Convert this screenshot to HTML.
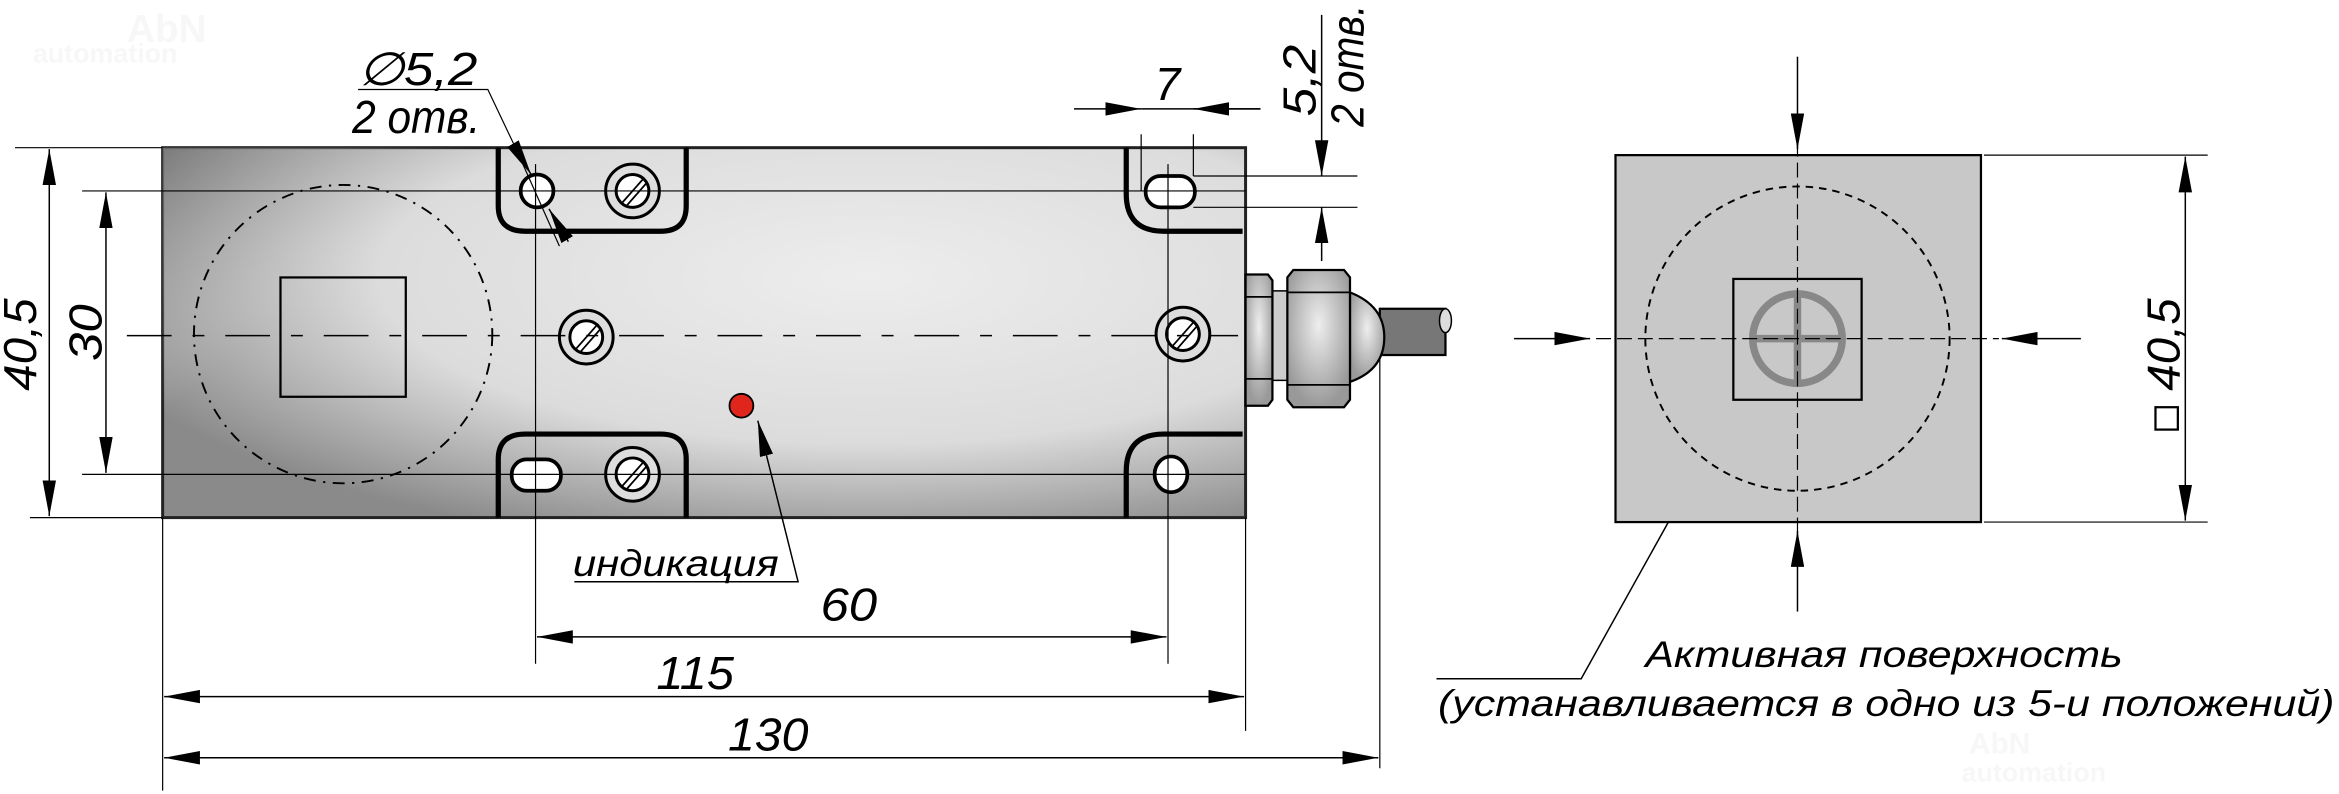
<!DOCTYPE html>
<html><head><meta charset="utf-8"><style>html,body{margin:0;padding:0;background:#fff}svg{display:block}</style></head>
<body>
<svg width="2339" height="794" viewBox="0 0 1568 532.3" xmlns="http://www.w3.org/2000/svg" font-family="'Liberation Sans', sans-serif" font-style="italic">
<defs>
<radialGradient id="g" cx="0.65" cy="0.35" r="0.75">
<stop offset="0" stop-color="#ededed"/><stop offset="0.6" stop-color="#dcdcdc"/><stop offset="1" stop-color="#8a8a8a"/></radialGradient>
<linearGradient id="gl" x1="0" y1="0" x2="1" y2="0.4"><stop offset="0" stop-color="#777" stop-opacity="0.8"/><stop offset="0.25" stop-color="#ccc" stop-opacity="0"/></linearGradient>
<marker id="a" viewBox="0 0 24 9" refX="24" refY="4.5" markerWidth="24" markerHeight="9" markerUnits="userSpaceOnUse" orient="auto"><path d="M0,0L24,4.5L0,9z" fill="#000"/></marker>
<marker id="s" viewBox="0 0 24 9" refX="0" refY="4.5" markerWidth="24" markerHeight="9" markerUnits="userSpaceOnUse" orient="auto"><path d="M24,0L0,4.5L24,9z" fill="#000"/></marker>
<radialGradient id="n" cx="0.5" cy="0.4" r="0.6"><stop offset="0" stop-color="#eee"/><stop offset="1" stop-color="#999"/></radialGradient>
</defs>
<text x="85" y="28" font-size="26" font-weight="bold" font-style="normal" fill="#f7f7f7">AbN</text>
<text x="22" y="42" font-size="18" font-weight="bold" font-style="normal" fill="#f7f7f7">automation</text>
<text x="1320" y="505" font-size="20" font-weight="bold" font-style="normal" fill="#f7f7f7">AbN</text>
<text x="1315" y="524" font-size="18" font-weight="bold" font-style="normal" fill="#f7f7f7">automation</text>

<rect x="109" y="99" width="726" height="248" fill="url(#g)" stroke="#222" stroke-width="2"/>
<rect x="109" y="99" width="726" height="248" fill="url(#gl)"/>
<g fill="none" stroke="#000" stroke-width="3.5">
<path d="M334,99V138Q334,155 352,155H443Q460,155 460,138V99"/>
<path d="M334,347V308Q334,291 352,291H443Q460,291 460,308V347"/>
<path d="M755,99V130Q755,155 780,155H833"/>
<path d="M755,347V316Q755,291 780,291H833"/>
</g>
<g stroke="#000" stroke-width="2.5" fill="#fff">
<circle cx="360" cy="128" r="11"/>
<rect x="768" y="118" width="33" height="21" rx="10"/>
<rect x="343" y="308" width="33" height="21" rx="10"/>
<ellipse cx="785" cy="318" rx="11" ry="12"/>
</g>
<g stroke="#000" stroke-width="2" fill="#ddd">
<circle cx="424" cy="128" r="18"/><circle cx="424" cy="318" r="18"/><circle cx="393" cy="226" r="18"/><circle cx="793" cy="224" r="18"/>
</g>
<g stroke="#000" stroke-width="2" fill="#fff">
<circle cx="424" cy="128" r="11"/><circle cx="424" cy="318" r="11"/><circle cx="393" cy="226" r="11"/><circle cx="793" cy="224" r="11"/>
</g>
<g stroke="#000" stroke-width="1.2">
<path d="M417,136L432,119M420,138L434,122"/><path d="M417,326L432,309M420,328L434,312"/>
<path d="M386,234L401,217M389,236L403,220"/><path d="M786,232L801,215M789,234L803,218"/>
</g>
<circle cx="497" cy="272" r="8" fill="#e0261c" stroke="#000" stroke-width="1.2"/>
<circle cx="230" cy="224" r="100" fill="none" stroke="#000" stroke-width="1.3" stroke-dasharray="8 5 1.5 5"/>
<rect x="188" y="186" width="84" height="80" fill="none" stroke="#000" stroke-width="1.5"/>
<path d="M85,225H830" stroke="#000" stroke-width="1" stroke-dasharray="30 14 8 14"/>

<rect x="925" y="207" width="44" height="31" fill="#777" stroke="#000" stroke-width="1.5"/>
<ellipse cx="969" cy="215" rx="4" ry="8" fill="#ddd" stroke="#000" stroke-width="1"/>
<path d="M905,196Q928,205 928,226Q928,248 905,256Z" fill="url(#n)" stroke="#000" stroke-width="1.5"/>
<rect x="851" y="195" width="14" height="60" fill="#ccc" stroke="#000" stroke-width="1"/>
<path d="M835,184H850L853,188V268L850,272H835Z" fill="url(#n)" stroke="#000" stroke-width="1.5"/>
<path d="M835,199H853M835,254H853" stroke="#000" stroke-width="1.2"/>
<path d="M867,181H901L905,186V268L901,273H867L863,268V186Z" fill="url(#n)" stroke="#000" stroke-width="1.5"/>
<path d="M863,196H905M863,258H905" stroke="#000" stroke-width="1.2"/>

<g stroke="#000" stroke-width="0.8" fill="none">
<path d="M10,99H109M55,128H835M55,318H835"/>
<path d="M109,347H20"/>
<path d="M109,347V530M835,347V490M925,240V515M359,110V445M783,110V445"/>
<path d="M765,90V128M800,90V118M800,118H910M800,139H910"/>
<path d="M1330,104H1480M1330,350H1480"/>
<path d="M375,165L346,100L327,60H240" />
</g>
<g stroke="#000" stroke-width="1" fill="none">
<path d="M33,100V346" marker-start="url(#s)" marker-end="url(#a)"/>
<path d="M71,129V317" marker-start="url(#s)" marker-end="url(#a)"/>
<path d="M360,427H782" marker-start="url(#s)" marker-end="url(#a)"/>
<path d="M110,467H834" marker-start="url(#s)" marker-end="url(#a)"/>
<path d="M110,508H924" marker-start="url(#s)" marker-end="url(#a)"/>
<path d="M720,73H765" marker-end="url(#a)"/>
<path d="M845,73H800" marker-end="url(#a)"/>
<path d="M765,73H845"/>
<path d="M886,10V118" marker-end="url(#a)"/>
<path d="M886,175V139" marker-end="url(#a)"/>
<path d="M346,100L356,117" marker-end="url(#a)"/>
<path d="M368,140L381,162" marker-start="url(#s)"/>
<path d="M1465,105V349" marker-start="url(#s)" marker-end="url(#a)"/>
<path d="M1205,38V100" marker-end="url(#a)"/>
<path d="M1205,410V356" marker-end="url(#a)"/>
<path d="M1015,227H1066" marker-end="url(#a)"/>
<path d="M1395,227H1342" marker-end="url(#a)"/>
<path d="M385,390H535L508,282" marker-end="url(#a)"/>
<path d="M963,455H1060L1163,270" marker-end="url(#a)"/>
</g>

<rect x="1083" y="104" width="245" height="246" fill="#c8c8c8" stroke="#000" stroke-width="1.5"/>
<circle cx="1205" cy="227" r="102" fill="none" stroke="#000" stroke-width="1.3" stroke-dasharray="5 4"/>
<rect x="1162" y="187" width="86" height="81" fill="none" stroke="#000" stroke-width="1.5"/>
<circle cx="1205" cy="227" r="30" fill="none" stroke="#888" stroke-width="5"/>
<path d="M1175,227H1235M1205,197V257" stroke="#888" stroke-width="5"/>
<path d="M1205,95V360M1070,227H1340" stroke="#000" stroke-width="0.8" stroke-dasharray="10 4"/>

<g font-size="31" fill="#000">
<text x="240" y="57" textLength="80" lengthAdjust="spacingAndGlyphs">∅5,2</text>
<text x="236" y="89" textLength="86" lengthAdjust="spacingAndGlyphs">2 отв.</text>
<text x="774" y="67">7</text>
<text x="440" y="462" textLength="52" lengthAdjust="spacingAndGlyphs">115</text>
<text x="488" y="503" textLength="54" lengthAdjust="spacingAndGlyphs">130</text>
<text x="550" y="416" textLength="38" lengthAdjust="spacingAndGlyphs">60</text>
<text transform="translate(24,262) rotate(-90)" textLength="62" lengthAdjust="spacingAndGlyphs">40,5</text>
<text transform="translate(68,242) rotate(-90)" textLength="38" lengthAdjust="spacingAndGlyphs">30</text>
<text transform="translate(882,78) rotate(-90)" textLength="48" lengthAdjust="spacingAndGlyphs">5,2</text>
<text transform="translate(914,85) rotate(-90)" textLength="82" lengthAdjust="spacingAndGlyphs">2 отв.</text>
<text transform="translate(1461,262) rotate(-90)" textLength="62" lengthAdjust="spacingAndGlyphs">40,5</text>
</g>
<rect x="1445" y="273" width="15" height="15" fill="none" stroke="#000" stroke-width="1.5"/>
<g font-size="25" fill="#000">
<text x="384" y="386" textLength="138" lengthAdjust="spacingAndGlyphs">индикация</text>
<text x="1103" y="447" textLength="320" lengthAdjust="spacingAndGlyphs">Активная поверхность</text>
<text x="964" y="480" textLength="601" lengthAdjust="spacingAndGlyphs">(устанавливается в одно из 5-и положений)</text>
</g>
</svg>
</body></html>
